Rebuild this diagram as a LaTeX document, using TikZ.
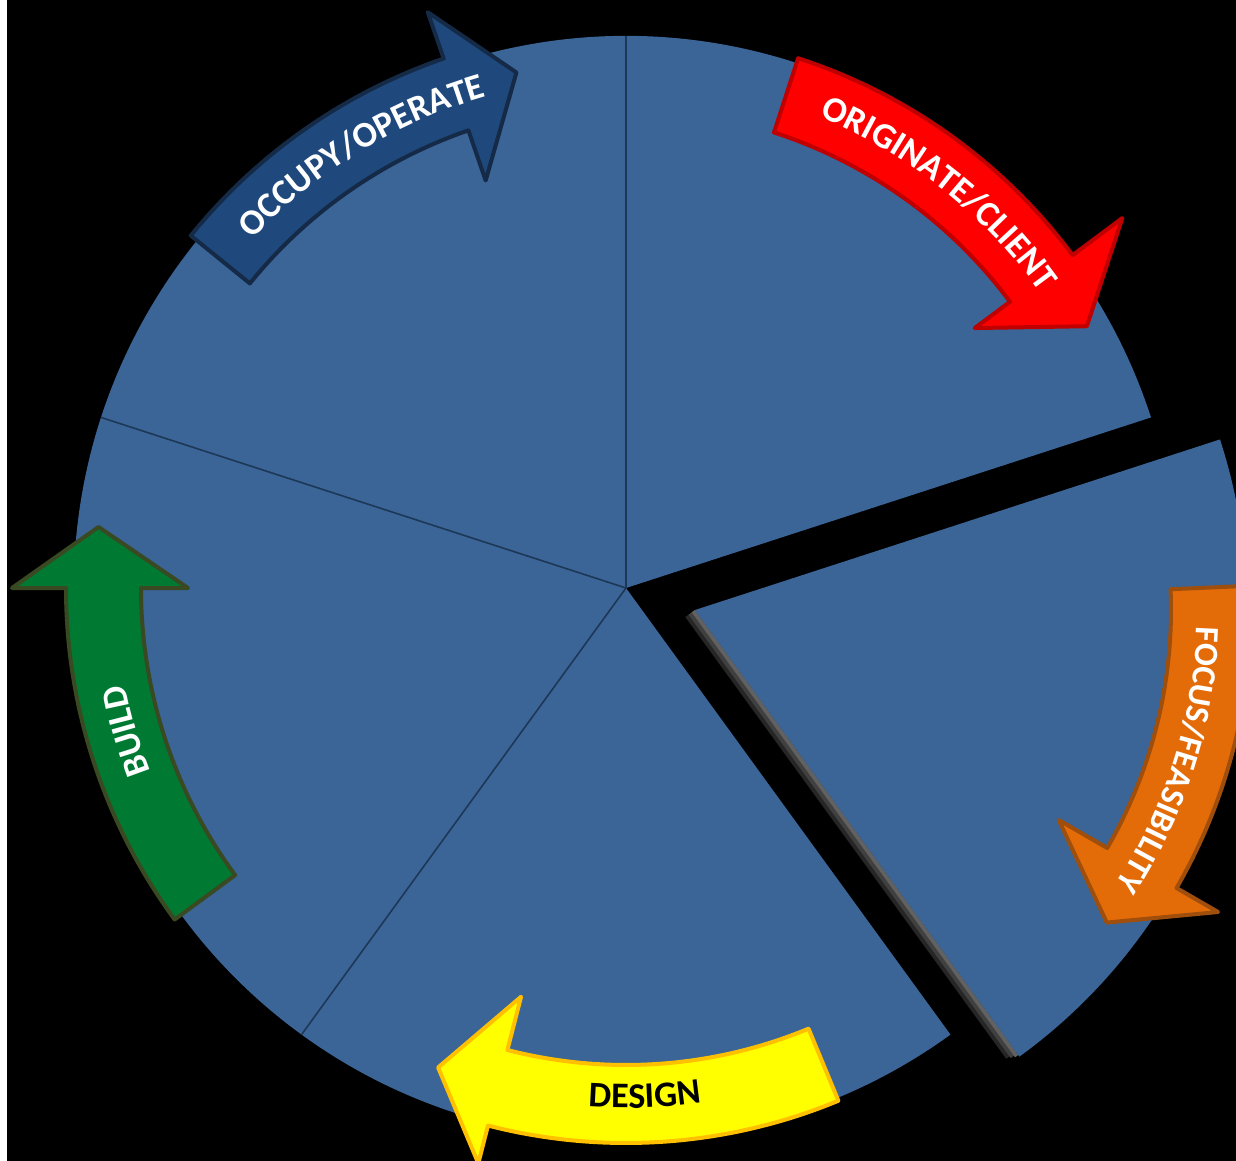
\documentclass[tikz,border=0pt]{standalone}
\usepackage{fontspec}
\setmainfont{Carlito}
\usetikzlibrary{decorations.text}
\definecolor{pieblue}{HTML}{3B6497}
\definecolor{sepline}{HTML}{1D3857}
\definecolor{occfill}{HTML}{1F497D}
\definecolor{occdraw}{HTML}{142A47}
\definecolor{orifill}{HTML}{FF0000}
\definecolor{oridraw}{HTML}{C00000}
\definecolor{focfill}{HTML}{E36C09}
\definecolor{focdraw}{HTML}{A04E0C}
\definecolor{desfill}{HTML}{FFFF00}
\definecolor{desdraw}{HTML}{FFC000}
\definecolor{bldfill}{HTML}{007A33}
\definecolor{blddraw}{HTML}{394A22}
\newcommand{\arrowfont}{\fontsize{36}{36}\selectfont\bfseries}
\newcommand{\smallarrowfont}{\fontsize{34}{34}\selectfont\bfseries}
% #1 style, #2 rin, #3 rout, #4 tail angle, #5 head angle, #6 inner barb, #7 outer barb, #8 tip angle, #9 tip radius
\newcommand{\curvarrow}[9]{%
  \filldraw[#1] (#4:#3) arc[start angle=#4, end angle=#5, radius=#3] -- (#5:#7) -- (#8:#9) -- (#5:#6) -- (#5:#2) arc[start angle=#5, end angle=#4, radius=#2] -- cycle;}
\tikzset{
  blockarrow/.style={line width=4pt, line join=round},
  occarrow/.style={blockarrow, fill=occfill, draw=occdraw},
  oriarrow/.style={blockarrow, fill=orifill, draw=oridraw},
  focarrow/.style={blockarrow, fill=focfill, draw=focdraw},
  desarrow/.style={blockarrow, fill=desfill, draw=desdraw},
  bldarrow/.style={blockarrow, fill=bldfill, draw=blddraw},
  slice/.style={fill=pieblue},
}
\begin{document}
\begin{tikzpicture}[x=1pt,y=1pt]
\useasboundingbox (0,0) rectangle (1236,-1161);
\clip (0,0) rectangle (1236,-1161);
\fill[black] (0,0) rectangle (1236,-1161);
\fill[white] (0,0) rectangle (7,-1161);
\coordinate (P) at (626,-588);
\coordinate (E) at (695,-610);
% main pie (four slices)
\begin{scope}[shift={(P)}]
  \fill[slice] (0,0) -- (18:552) arc[start angle=18, end angle=306, radius=552] -- cycle;
  \draw[sepline, line width=1.6pt] (90:552) -- (0,0) -- (162:552) (0,0) -- (234:552);
\end{scope}
% exploded slice with a soft shadow on its left edge
\begin{scope}[shift={(E)}]
  \draw[black!85, line width=12pt] (-144:6) -- ++(-54:546);
  \draw[black!75, line width=8pt] (-144:4) -- ++(-54:548);
  \draw[black!62, line width=4pt] (-144:2) -- ++(-54:550);
  \fill[slice] (0,0) -- (-54:552) arc[start angle=-54, end angle=18, radius=552] -- cycle;
\end{scope}
% arrows around the pie
\begin{scope}[shift={(P)}]
  \curvarrow{occarrow}{484}{560}{141}{109}{431}{609}{102}{527}
  \path[decorate, decoration={text along path, text align=center, text color=white,
    text={|\arrowfont|OCCUPY/OPERATE}}]
    (151.4:511) arc[start angle=151.4, end angle=91.4, radius=511];
  \curvarrow{oriarrow}{479}{557}{72}{36.7}{435}{619}{29.6}{530}
  \path[decorate, decoration={text along path, text align=center, text color=white,
    text={|\arrowfont|ORIGINATE/CLIENT}}]
    (81.6:509) arc[start angle=81.6, end angle=21.6, radius=509];
  \curvarrow{desarrow}{477}{555}{-67.5}{-104.4}{422}{594}{-111.4}{515}
  \path[decorate, decoration={text along path, text align=center, text color=black,
    text={|\arrowfont|DESIGN}}]
    (-117.9:520) arc[start angle=-117.9, end angle=-57.9, radius=520];
  \curvarrow{bldarrow}{485}{560}{216.3}{180}{438}{614}{173.4}{531}
  \path[decorate, decoration={text along path, text align=center, text color=white,
    text={|\arrowfont|BUILD}}]
    (226:510) arc[start angle=226, end angle=166, radius=510];
\end{scope}
\begin{scope}[shift={(E)}]
  \curvarrow{focarrow}{476}{556}{2.5}{-30}{420}{604}{-37.2}{517}
  \path[decorate, decoration={text along path, text align=center, text color=white,
    text={|\smallarrowfont|FOCUS/FEASIBILITY}}]
    (12.5:502) arc[start angle=12.5, end angle=-47.5, radius=502];
\end{scope}
\end{tikzpicture}
\end{document}
